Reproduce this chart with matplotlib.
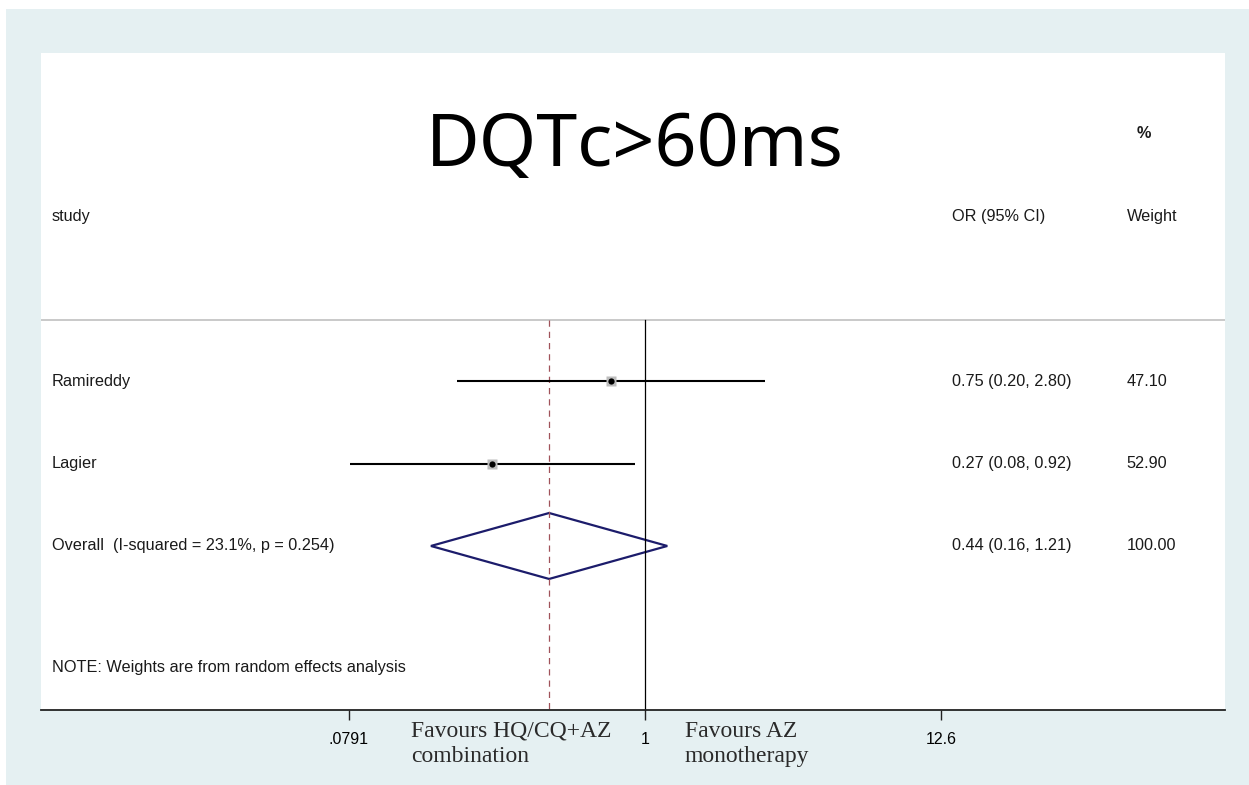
import numpy as np
import matplotlib.pyplot as plt
from matplotlib.patches import Polygon, Rectangle

# Study-level odds ratios with 95% CI and random-effects weights
studies = ['Ramireddy', 'Lagier']
odds_ratio = [0.75, 0.27]
ci_low = [0.20, 0.08]
ci_high = [2.80, 0.92]
weights = [47.10, 52.90]

# Pooled estimate
overall_label = 'Overall  (I-squared = 23.1%, p = 0.254)'
overall_or = 0.44
overall_low = 0.16
overall_high = 1.21
overall_weight = 100.00

tick_values = [0.0791, 1, 12.6]
tick_labels = ['.0791', '1', '12.6']

sans = 'Liberation Sans'
serif = 'Liberation Serif'

fig = plt.figure(figsize=(12.49, 7.85), dpi=100, facecolor='#e5f0f2')
fig.patches.append(Rectangle((0, 0.9885), 1, 0.0115, transform=fig.transFigure,
                             facecolor='white', edgecolor='none', zorder=0))
fig.patches.append(Rectangle((0, 0), 0.005, 1, transform=fig.transFigure,
                             facecolor='white', edgecolor='none', zorder=0))

ax = fig.add_axes([0.0328, 0.0955, 0.948, 0.837])
ax.set_facecolor('white')
ax.set_xscale('log')
ax.set_xlim(10 ** -2.2454, 10 ** 2.156)
ax.set_ylim(4.99, -2.98)

for side in ['top', 'left', 'right']:
    ax.spines[side].set_visible(False)
ax.spines['bottom'].set_linewidth(1.3)
ax.spines['bottom'].set_color('#222222')

ax.set_yticks([])
ax.set_xticks(tick_values)
ax.set_xticklabels(tick_labels, fontfamily=sans, fontsize=11.5)
ax.xaxis.set_minor_locator(plt.NullLocator())
ax.tick_params(axis='x', direction='out', length=7, width=1, pad=9, color='#222222')

# header separator
ax.axhline(0.26, color='#bbbbbb', lw=1.1)

# no-effect line and pooled-estimate line
ax.plot([1, 1], [0.26, 4.99], color='black', lw=0.9, clip_on=False)
ax.plot([overall_or, overall_or], [0.26, 4.99], color='#a0525a', lw=0.9,
        ls=(0, (5, 4)))

rows = np.arange(1, len(studies) + 1)
for y, o, lo, hi in zip(rows, odds_ratio, ci_low, ci_high):
    ax.plot([lo, hi], [y, y], color='black', lw=1.5, solid_capstyle='butt')
    ax.plot(o, y, marker='s', ms=7, color='#bdbdbd', mec='none')
    ax.plot(o, y, marker='o', ms=4.5, color='black', mec='none')

y_all = len(studies) + 1
diamond = Polygon([[overall_low, y_all], [overall_or, y_all - 0.4],
                   [overall_high, y_all], [overall_or, y_all + 0.4]],
                  closed=True, fill=False, edgecolor='#1c1c6b', lw=1.6)
ax.add_patch(diamond)

# text columns
trans = ax.get_yaxis_transform()
txt = dict(fontfamily=sans, fontsize=11.7, va='center', transform=trans,
           color='#1a1a1a')
ax.text(0.0093, -1, 'study', **txt)
ax.text(0.769, -1, 'OR (95% CI)', **txt)
ax.text(0.917, -1, 'Weight', **txt)
ax.text(0.925, -2, '%', fontweight='bold', **txt)

for y, name, o, lo, hi, w in zip(rows, studies, odds_ratio, ci_low, ci_high, weights):
    ax.text(0.0093, y, name, **txt)
    ax.text(0.769, y, f'{o:.2f} ({lo:.2f}, {hi:.2f})', **txt)
    ax.text(0.917, y, f'{w:.2f}', **txt)

ax.text(0.0093, y_all, overall_label, **txt)
ax.text(0.769, y_all, f'{overall_or:.2f} ({overall_low:.2f}, {overall_high:.2f})', **txt)
ax.text(0.917, y_all, f'{overall_weight:.2f}', **txt)
ax.text(0.0093, 4.48, 'NOTE: Weights are from random effects analysis', **txt)

ax.text(0.5017, -1.61, 'DQTc>60ms', fontfamily='Noto Sans', fontsize=53,
        ha='center', va='baseline', transform=trans)

# direction labels under the axis
ax.text(0.3128, -0.016, 'Favours HQ/CQ+AZ\ncombination', fontfamily=serif,
        fontsize=17, ha='left', va='top', linespacing=1.25, color='#2a2a2a',
        transform=ax.transAxes)
ax.text(0.5439, -0.016, 'Favours AZ\nmonotherapy', fontfamily=serif,
        fontsize=17, ha='left', va='top', linespacing=1.25, color='#2a2a2a',
        transform=ax.transAxes)

fig.savefig('out.png', dpi=100, facecolor=fig.get_facecolor())
